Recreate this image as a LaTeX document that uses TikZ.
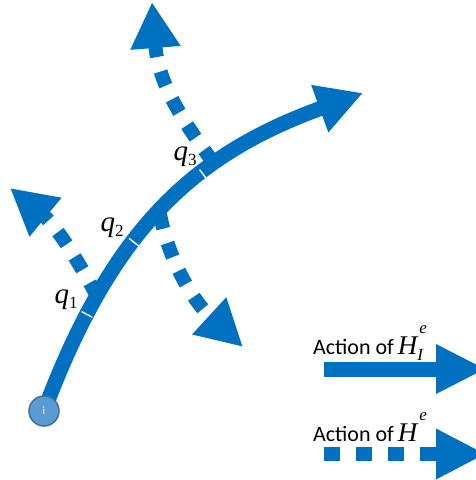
\documentclass[tikz,border=0pt]{standalone}
\usepackage{fontspec}
\usetikzlibrary{arrows.meta}
\newfontfamily\calibri{Carlito}
\newfontfamily\timesfont{Liberation Serif}
\definecolor{flowblue}{HTML}{0070C0}
\definecolor{dotfill}{HTML}{5B9BD5}
\definecolor{dotline}{HTML}{41719C}
\newcommand{\actionof}{{\calibri\fontsize{22}{26}\selectfont Action of}\hspace{4pt}}
\newcommand{\smallidx}{\timesfont\fontsize{17}{18}\selectfont}
\newcommand{\qname}[1]{{\timesfont\itshape q}\raisebox{-5pt}{\smallidx #1}}
\newcommand{\hname}[2]{{\timesfont\fontsize{27}{30}\selectfont\itshape H}%
  \rlap{\hspace{2pt}\raisebox{21pt}{\smallidx\itshape e}}\raisebox{-6pt}{\smallidx\itshape #2}}

\begin{document}
\begin{tikzpicture}[x=1pt,y=-1pt,
  flow/.style={flowblue,line width=15pt,-{Triangle[length=46pt,width=47pt]}},
  dots/.style={flow,line width=14pt,dash pattern=on 15pt off 15pt},
  qtick/.style={fill=white,inner sep=0pt,minimum width=1.4pt,minimum height=12pt,sloped},
  qlab/.style={font=\timesfont\fontsize{29}{32}\selectfont,inner sep=0pt},
  legend/.style={anchor=base west,inner sep=0pt}]
  \useasboundingbox (0,0) rectangle (476,480);
  \clip (0,0) rectangle (476,480);
  % --- the three side moves ---
  \coordinate (a1) at (97,296);  \coordinate (b1) at (10,188);
  \coordinate (a2) at (160,214); \coordinate (b2) at (243,347);
  \coordinate (a3) at (213,162); \coordinate (b3) at (152,2);
  \draw[dots] (a1) .. controls (75,255) and (55,225) .. (b1);
  \draw[dots] (a2) .. controls (168,258) and (192,300) .. (b2);
  \draw[dots] (a3) .. controls (178,115) and (158,80) .. (b3);
  % --- the path from i ---
  \coordinate (istart) at (44,411);
  \coordinate (iend) at (363,93);
  \draw[flow] (istart) .. controls (112,230) and (192,155) .. (iend)
    node[qtick,pos=0.2] (t1) {}
    node[qtick,pos=0.39] (t2) {}
    node[qtick,pos=0.62] (t3) {};
  \node[circle,fill=dotfill,draw=dotline,line width=1.5pt,minimum size=30pt,
    inner sep=0pt,text=white,font=\calibri\fontsize{11}{12}\selectfont] (i) at (istart) {i};
  \node[qlab] (q1) at (66,300) {\qname{1}};
  \node[qlab] (q2) at (112,228) {\qname{2}};
  \node[qlab] (q3) at (185,157) {\qname{3}};
  % --- legend ---
  \node[legend] (lab1) at (313,354) {\actionof\hname{e}{I}};
  \node[legend] (lab2) at (313,441) {\actionof\hname{e}{}};
  \coordinate (l1a) at (324,369); \coordinate (l1b) at (486,369);
  \coordinate (l2a) at (324,454); \coordinate (l2b) at (486,454);
  \draw[flow,-{Triangle[length=50pt,width=46pt]}] (l1a) -- (l1b);
  \draw[dots,dash pattern=on 16pt off 16pt,-{Triangle[length=50pt,width=47pt]}] (l2a) -- (l2b);
\end{tikzpicture}
\end{document}
